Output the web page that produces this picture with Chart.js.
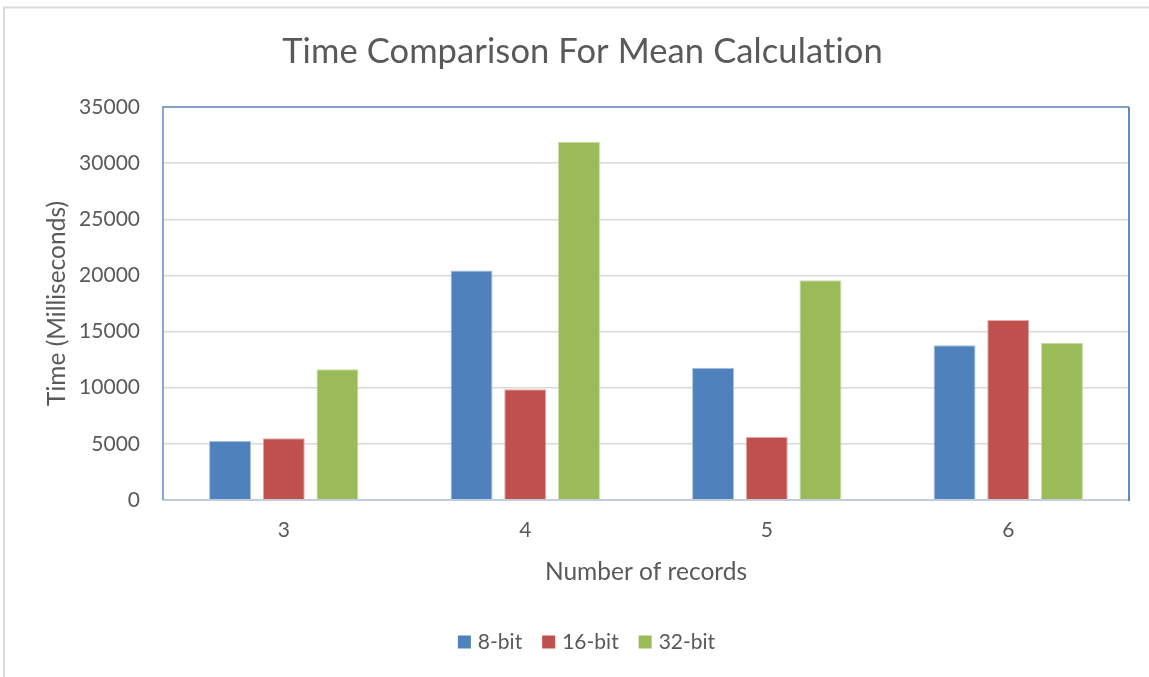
<!DOCTYPE html>
<html>
<head>
<meta charset="utf-8">
<script src="https://cdn.jsdelivr.net/npm/chart.js@4.4.1/dist/chart.umd.min.js"></script>
<style>
  html, body { margin: 0; padding: 0; background: #ffffff; }
  #wrap { position: relative; width: 1149px; height: 677px; }
</style>
</head>
<body>
<div id="wrap"><canvas id="chart"></canvas></div>
<script>
// Chart data
const categories = ['3', '4', '5', '6'];
const seriesNames = ['8-bit', '16-bit', '32-bit'];
const values8bit = [5250, 20450, 11780, 13780];
const values16bit = [5500, 9870, 5620, 16040];
const values32bit = [11650, 31900, 19580, 14000];
const yTicks = [0, 5000, 10000, 15000, 20000, 25000, 30000, 35000];

const chartTitle = 'Time Comparison For Mean Calculation';
const xTitle = 'Number of records';
const yTitle = 'Time (Milliseconds)';

const FONT = 'Lato, "Open Sans", sans-serif';
const TEXT = '#595959';
const fills = ['#4F81BD', '#C0504D', '#9BBB59'];
const edges = ['#A9C0DF', '#E3A9A7', '#CADCA8'];

// Outer frame, plot border, title and legend
const decorations = {
  id: 'decorations',
  beforeDraw(chart) {
    const ctx = chart.ctx;
    ctx.save();
    ctx.strokeStyle = '#D9D9D9';
    ctx.lineWidth = 2;
    ctx.beginPath();
    ctx.moveTo(4, 677);
    ctx.lineTo(4, 7.5);
    ctx.lineTo(1149, 7.5);
    ctx.stroke();
    ctx.restore();
  },
  afterDraw(chart) {
    const ctx = chart.ctx;
    const a = chart.chartArea;
    ctx.save();
    // plot frame
    ctx.lineWidth = 2;
    ctx.strokeStyle = '#C3CCDA';
    ctx.beginPath();
    ctx.moveTo(a.left, a.bottom);
    ctx.lineTo(a.right, a.bottom);
    ctx.stroke();
    ctx.strokeStyle = '#5F8AC4';
    ctx.lineWidth = 1.5;
    ctx.beginPath();
    ctx.moveTo(a.left, a.bottom);
    ctx.lineTo(a.left, a.top);
    ctx.lineTo(a.right, a.top);
    ctx.stroke();
    ctx.lineWidth = 2;
    ctx.beginPath();
    ctx.moveTo(a.right, a.top);
    ctx.lineTo(a.right, a.bottom + 1);
    ctx.stroke();

    // title (slight letter spacing keeps the font from joining "ti")
    ctx.fillStyle = TEXT;
    ctx.font = '34.5px ' + FONT;
    if ('letterSpacing' in ctx) ctx.letterSpacing = '0.1px';
    ctx.textAlign = 'center';
    ctx.textBaseline = 'middle';
    ctx.fillText(chartTitle, 582.5, 52);
    if ('letterSpacing' in ctx) ctx.letterSpacing = '0px';

    // legend
    ctx.font = '21px ' + FONT;
    ctx.textAlign = 'left';
    const box = 13, gapText = 7, gapItem = 20;
    const items = chart.data.datasets.map((ds, i) => ({
      label: ds.label, color: fills[i], w: ctx.measureText(ds.label).width
    }));
    let total = 0;
    items.forEach((it, i) => { total += box + gapText + it.w + (i < items.length - 1 ? gapItem : 0); });
    let x = 586.5 - total / 2;
    const cy = 642;
    items.forEach(it => {
      ctx.fillStyle = it.color;
      ctx.fillRect(x, cy - box / 2, box, box);
      ctx.fillStyle = TEXT;
      ctx.fillText(it.label, x + box + gapText, cy);
      x += box + gapText + it.w + gapItem;
    });
    ctx.restore();
  }
};

const seriesValues = [values8bit, values16bit, values32bit];

new Chart(document.getElementById('chart'), {
  type: 'bar',
  data: {
    labels: categories,
    datasets: seriesNames.map((name, i) => ({
      label: name,
      data: seriesValues[i],
      backgroundColor: fills[i],
      borderColor: edges[i],
      borderWidth: 1,
      categoryPercentage: 0.667,
      barPercentage: 0.782
    }))
  },
  options: {
    responsive: true,
    maintainAspectRatio: false,
    animation: false,
    layout: { padding: { left: 0, right: 20, top: 107, bottom: 77 } },
    plugins: {
      legend: { display: false },
      title: { display: false },
      tooltip: { enabled: false }
    },
    scales: {
      x: {
        grid: { display: false, drawTicks: false },
        border: { display: false },
        ticks: { color: TEXT, font: { family: FONT, size: 21 }, padding: 18 },
        title: {
          display: true, text: xTitle, color: TEXT,
          font: { family: FONT, size: 24.5 }, padding: { top: 0, bottom: 13 }
        },
        afterFit(scale) { scale.height = 100; }
      },
      y: {
        min: 0,
        max: 35000,
        afterBuildTicks(scale) { scale.ticks = yTicks.map(v => ({ value: v })); },
        grid: { color: '#D9D9D9', lineWidth: 1.5, drawTicks: false },
        border: { display: false },
        ticks: {
          color: TEXT, font: { family: FONT, size: 21 }, padding: 23,
          callback: (v) => String(v)
        },
        title: {
          display: true, text: yTitle, color: TEXT,
          font: { family: FONT, size: 24.5 }, padding: { top: 42, bottom: 0 }
        },
        afterFit(scale) { scale.width = 163; }
      }
    }
  },
  plugins: [decorations]
});
</script>
</body>
</html>
